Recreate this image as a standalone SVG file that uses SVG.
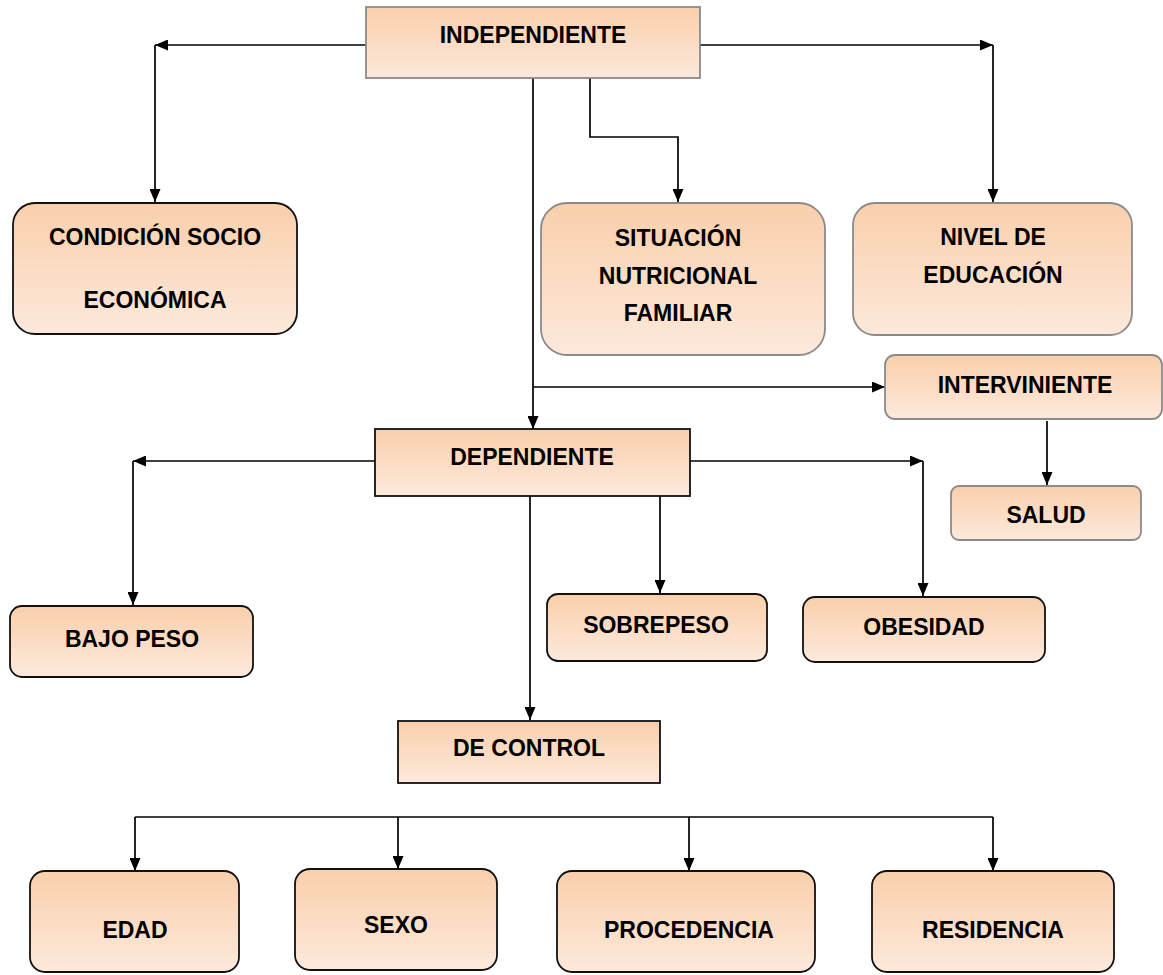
<svg xmlns="http://www.w3.org/2000/svg" width="1163" height="975" viewBox="0 0 1163 975">
  <defs>
    <linearGradient id="peach" x1="0" y1="0" x2="0" y2="1">
      <stop offset="0" stop-color="#f9cfab"/>
      <stop offset="1" stop-color="#fde9dc"/>
    </linearGradient>
    <marker id="arrow" viewBox="0 0 13 11" refX="13" refY="5.5" markerWidth="13" markerHeight="11" markerUnits="userSpaceOnUse" orient="auto">
      <path d="M0,0 L13,5.5 L0,11 z" fill="#000"/>
    </marker>
  </defs>
  <style>
    .box { fill: url(#peach); stroke-width: 1.8; }
    .gray { stroke: #8a8a8a; }
    .dark { stroke: #111; }
    .label { font-family: "Liberation Sans", Arial, sans-serif; font-weight: bold; font-size: 23px; fill: #000; text-anchor: middle; }
    .wire { fill: none; stroke: #000; stroke-width: 1.7; }
    .arrow { marker-end: url(#arrow); }
  </style>

  <rect width="1163" height="975" fill="#fff"/>

  <!-- connectors -->
  <g id="connectors">
    <path class="wire arrow" d="M366,45 H155"/>
    <path class="wire arrow" d="M155,45 V202"/>
    <path class="wire arrow" d="M700,45 H993"/>
    <path class="wire arrow" d="M993,45 V202"/>
    <path class="wire arrow" d="M590,78 V137 H678 V202"/>
    <path class="wire arrow" d="M533,78 V429"/>
    <path class="wire arrow" d="M533,387 H885"/>
    <path class="wire arrow" d="M1047,421 V485"/>
    <path class="wire arrow" d="M375,461 H133"/>
    <path class="wire arrow" d="M133,461 V605"/>
    <path class="wire arrow" d="M690,461 H923"/>
    <path class="wire arrow" d="M923,461 V596"/>
    <path class="wire arrow" d="M660,496 V593"/>
    <path class="wire arrow" d="M530,496 V720"/>
    <path class="wire" d="M135,817 H993"/>
    <path class="wire arrow" d="M135,817 V871"/>
    <path class="wire arrow" d="M398,817 V869"/>
    <path class="wire arrow" d="M689,817 V871"/>
    <path class="wire arrow" d="M993,817 V871"/>
  </g>

  <!-- independent variable -->
  <g id="independiente">
    <rect class="box gray" x="366" y="7" width="334" height="71"/>
    <text class="label" x="533" y="43">INDEPENDIENTE</text>
  </g>
  <g id="condicion">
    <rect class="box dark" x="13" y="203" width="284" height="131" rx="22"/>
    <text class="label" x="155" y="245">CONDICIÓN SOCIO</text>
    <text class="label" x="155" y="308">ECONÓMICA</text>
  </g>
  <g id="situacion">
    <rect class="box gray" x="541" y="203" width="284" height="152" rx="26"/>
    <text class="label" x="678" y="246">SITUACIÓN</text>
    <text class="label" x="678" y="284">NUTRICIONAL</text>
    <text class="label" x="678" y="321">FAMILIAR</text>
  </g>
  <g id="nivel">
    <rect class="box gray" x="853" y="203" width="279" height="132" rx="22"/>
    <text class="label" x="993" y="245">NIVEL DE</text>
    <text class="label" x="993" y="283">EDUCACIÓN</text>
  </g>

  <!-- intervening variable -->
  <g id="interviniente">
    <rect class="box gray" x="885" y="355" width="277" height="64" rx="10"/>
    <text class="label" x="1025" y="393">INTERVINIENTE</text>
  </g>
  <g id="salud">
    <rect class="box gray" x="951" y="486" width="190" height="54" rx="8"/>
    <text class="label" x="1046" y="523">SALUD</text>
  </g>

  <!-- dependent variable -->
  <g id="dependiente">
    <rect class="box dark" x="375" y="429" width="315" height="67"/>
    <text class="label" x="532" y="465">DEPENDIENTE</text>
  </g>
  <g id="bajo-peso">
    <rect class="box dark" x="10" y="606" width="243" height="71" rx="12"/>
    <text class="label" x="132" y="647">BAJO PESO</text>
  </g>
  <g id="sobrepeso">
    <rect class="box dark" x="547" y="594" width="220" height="67" rx="11"/>
    <text class="label" x="656" y="633">SOBREPESO</text>
  </g>
  <g id="obesidad">
    <rect class="box dark" x="803" y="597" width="242" height="65" rx="12"/>
    <text class="label" x="924" y="635">OBESIDAD</text>
  </g>

  <!-- control variable -->
  <g id="de-control">
    <rect class="box dark" x="398" y="721" width="262" height="62"/>
    <text class="label" x="529" y="756">DE CONTROL</text>
  </g>
  <g id="edad">
    <rect class="box dark" x="30" y="871" width="209" height="101" rx="15"/>
    <text class="label" x="135" y="938">EDAD</text>
  </g>
  <g id="sexo">
    <rect class="box dark" x="295" y="869" width="202" height="101" rx="15"/>
    <text class="label" x="396" y="933">SEXO</text>
  </g>
  <g id="procedencia">
    <rect class="box dark" x="557" y="871" width="258" height="101" rx="15"/>
    <text class="label" x="689" y="938">PROCEDENCIA</text>
  </g>
  <g id="residencia">
    <rect class="box dark" x="872" y="871" width="242" height="101" rx="15"/>
    <text class="label" x="993" y="938">RESIDENCIA</text>
  </g>
</svg>
